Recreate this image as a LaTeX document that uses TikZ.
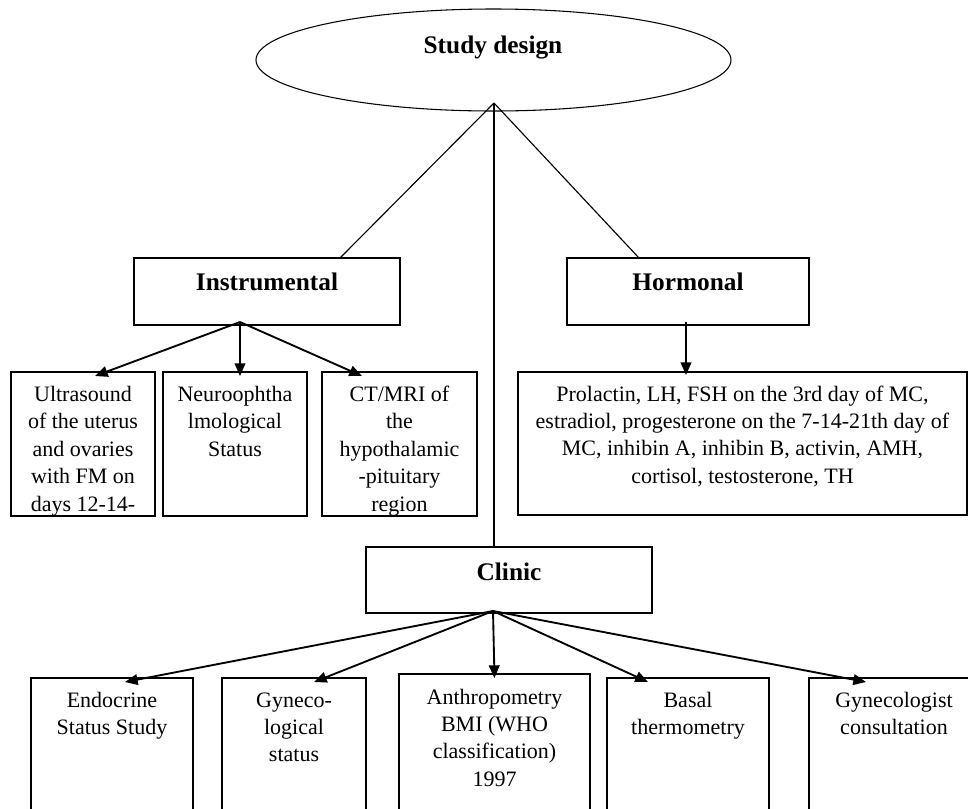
\documentclass[tikz,border=0pt]{standalone}
\usepackage{fontspec}
\setmainfont{Liberation Serif}
\usetikzlibrary{arrows.meta,calc,shapes.geometric}
\begin{document}
\begin{tikzpicture}[x=0.75pt,y=-0.75pt,
  box/.style={draw, line width=1.1pt, inner sep=0pt, outer sep=0pt},
  oval/.style={draw, ellipse, line width=0.8pt, inner sep=0pt, outer sep=0pt, minimum width=356.25pt, minimum height=76.5pt},
  ttl/.style={font=\fontsize{19}{23}\selectfont\bfseries, inner sep=0pt},
  txt/.style={font=\fontsize{16.5}{20.6}\selectfont, align=center, inner sep=0pt, anchor=north},
  thinline/.style={line width=0.85pt},
  arr/.style={line width=1.4pt, -{Triangle[length=9.5pt,width=8pt]}},
]
\useasboundingbox (0,0) rectangle (968,808);
\clip (0,0) rectangle (968,808);

% top
\node[oval] (sd) at (493.5,60) {};
\node[ttl] (sdt) at (493,48) {Study design};
\coordinate (apex) at ($(sd.south)+(0.5,-8)$);

% second level
\node[box, minimum width=199.5pt, minimum height=50.25pt] (instr) at (267,291.5) {};
\node[ttl] (instrt) at ($(instr.north)+(0,24)$) {Instrumental};
\node[box, minimum width=181.5pt, minimum height=50.25pt] (horm) at (688,291.5) {};
\node[ttl] (hormt) at ($(horm.north)+(0,24)$) {Hormonal};

% instrumental children
\node[box, minimum width=108pt, minimum height=108pt] (us) at (83,444) {};
\node[box, minimum width=108pt, minimum height=108pt] (neuro) at (235,444) {};
\node[box, minimum width=116.25pt, minimum height=108pt] (ct) at (399.5,444) {};
\node[box, minimum width=336.75pt, minimum height=107.25pt] (prol) at (742.5,443.5) {};

\begin{scope}
\clip (us.south west) rectangle (us.north east);
\node[txt] (ust) at ($(us.north)+(0,10)$) {\strut Ultrasound\\of the uterus\\and ovaries\\with FM on\\days 12-14-};
\end{scope}
\node[txt] (neurot) at ($(neuro.north)+(0,10)$) {\strut Neuroophtha\\lmological\\Status};
\begin{scope}
\clip (ct.south west) rectangle (ct.north east);
\node[txt] (ctt) at ($(ct.north)+(0,10)$) {\strut CT/MRI of\\the\\hypothalamic\\-pituitary\\region};
\end{scope}
\node[txt] (prolt) at ($(prol.north)+(0,9.5)$) {\strut Prolactin, LH, FSH on the 3rd day of MC,\\estradiol, progesterone on the 7-14-21th day of\\MC, inhibin A, inhibin B, activin, AMH,\\cortisol, testosterone, TH};

% clinic
\node[box, minimum width=214.5pt, minimum height=49.5pt] (clinic) at (509,580) {};
\node[ttl] (clinict) at ($(clinic.north)+(0,25)$) {Clinic};

% bottom row
\node[box, minimum width=121.5pt, minimum height=114pt] (endo) at (112,754) {};
\node[box, minimum width=108pt, minimum height=114pt] (gyn) at (294,754) {};
\node[box, minimum width=143.25pt, minimum height=117pt] (anth) at (494.5,752) {};
\node[box, minimum width=121.5pt, minimum height=114pt] (basal) at (688,754) {};
\node[box, minimum width=127.5pt, minimum height=114pt] (gcons) at (894,754) {};

\node[txt] (endot) at ($(endo.north)+(0,9.5)$) {\strut Endocrine\\Status Study};
\node[txt] (gynt) at ($(gyn.north)+(0,9.5)$) {\strut Gyneco-\\logical\\status};
\node[txt] (antht) at ($(anth.north)+(0,10.5)$) {\strut Anthropometry\\BMI (WHO\\classification)\\1997};
\node[txt] (basalt) at ($(basal.north)+(0,9.5)$) {\strut Basal\\thermometry};
\node[txt] (gconst) at ($(gcons.north)+(0,9.5)$) {\strut Gynecologist\\consultation};

% connectors from Study design
\draw[thinline] (apex) -- ($(instr.north)+(73,0)$);
\draw[thinline] (apex) -- ($(horm.north)+(-49,0)$);
\draw[thinline] (apex) -- ($(clinic.north)+(-15,0)$);

% instrumental arrows
\coordinate (iout) at ($(instr.south)+(-27,-3)$);
\draw[arr] (iout) -- ($(us.north)+(12,4)$);
\draw[arr] (iout) -- ($(neuro.north)+(5,4)$);
\draw[arr] (iout) -- ($(ct.north)+(-37.5,4)$);

% hormonal arrow
\coordinate (hout) at ($(horm.south)+(-2,-3)$);
\draw[arr] (hout) -- ($(hout |- prol.north)+(0,3)$);

% clinic arrows
\coordinate (cout) at ($(clinic.south)+(-16,-2)$);
\draw[arr] (cout) -- ($(endo.north)+(13,4)$);
\draw[arr] (cout) -- ($(gyn.north)+(20,4)$);
\draw[arr] (cout) -- ($(anth.north)+(0,4)$);
\draw[arr] (cout) -- ($(basal.north)+(-40,4)$);
\draw[arr] (cout) -- ($(gcons.north)+(-28,4)$);
\end{tikzpicture}
\end{document}
